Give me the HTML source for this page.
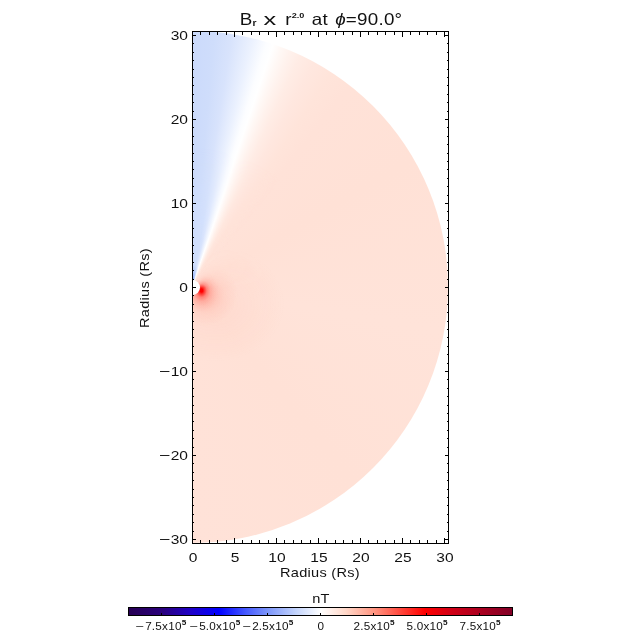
<!DOCTYPE html>
<html><head><meta charset="utf-8"><title>Br x r^2.0</title>
<style>
html,body{margin:0;padding:0;background:#fff;}
body{width:640px;height:640px;position:relative;overflow:hidden;font-family:"Liberation Sans",sans-serif;color:#000;}
.plot{position:absolute;left:193px;top:32px;width:255px;height:511px;overflow:hidden;background:#fff;}
.disc{position:absolute;left:-256.7px;top:-1px;width:512px;height:512px;border-radius:50%;
 background:conic-gradient(from 0deg at 50% 50%,
   #cbdafb 0deg, #cfddfb 5deg, #d8e3fc 9deg, #ebf1fe 13.6deg, #fcfdff 17deg, #ffffff 18.5deg, #fff8f5 20.5deg, #fff2ed 22.5deg, #ffece5 25deg, #ffe7df 28.5deg, #ffe4da 33deg, #ffe2d8 38deg, #ffe1d6 60deg, #ffe3d9 100deg, #ffe1d6 140deg, #ffe2d8 180deg, #ffe2d8 360deg);}
.near{position:absolute;left:-256.7px;top:-1px;width:512px;height:512px;border-radius:50%;
 background:conic-gradient(from 0deg at 50% 50%, #cfddfc 0deg, #d1dffc 10deg, #d9e4fd 13deg, #ebf1fe 16deg, #ffffff 19deg, #fff7f4 21deg, #ffeee7 23.5deg, #ffe6dd 26.5deg, #ffe2d8 31deg, #ffe2d8 33deg, rgba(255,226,216,0) 40deg, rgba(255,226,216,0) 360deg);
 -webkit-mask-image:radial-gradient(circle 140px at 50% 50%, #000 0, #000 35%, transparent 100%);
 mask-image:radial-gradient(circle 140px at 50% 50%, #000 0, #000 35%, transparent 100%);}
.hot{position:absolute;left:0;top:0;width:255px;height:511px;
 -webkit-mask-image:conic-gradient(from 0deg at -0.5px 255.5px, transparent 0deg, transparent 22deg, rgba(0,0,0,.35) 45deg, rgba(0,0,0,.8) 70deg, #000 90deg, #000 180deg, transparent 180deg);
 mask-image:conic-gradient(from 0deg at -0.5px 255.5px, transparent 0deg, transparent 22deg, rgba(0,0,0,.35) 45deg, rgba(0,0,0,.8) 70deg, #000 90deg, #000 180deg, transparent 180deg);
 background:
  radial-gradient(ellipse 17px 21px at 8.5px 258.5px, rgba(255,0,0,1) 0%, rgba(255,0,0,1) 8%, rgba(255,25,20,.8) 17%, rgba(255,55,45,.42) 32%, rgba(255,85,70,.19) 52%, rgba(255,110,95,.07) 75%, rgba(255,120,100,0) 100%),
  radial-gradient(ellipse 34px 32px at 11px 262px, rgba(255,90,75,.28) 0%, rgba(255,100,85,.2) 30%, rgba(255,120,100,.09) 60%, rgba(255,130,110,0) 100%),
  radial-gradient(ellipse 70px 58px at 22px 272px, rgba(255,150,130,.09) 0%, rgba(255,150,130,.045) 60%, rgba(255,150,130,0) 100%);}
.cold{position:absolute;left:0;top:0;width:255px;height:511px;
 -webkit-mask-image:conic-gradient(from 0deg at -0.7px 255px, #000 0deg, #000 10deg, transparent 19deg, transparent 360deg);
 mask-image:conic-gradient(from 0deg at -0.7px 255px, #000 0deg, #000 10deg, transparent 19deg, transparent 360deg);
 background:radial-gradient(ellipse 9px 16px at 0px 248px, rgba(110,150,250,.65) 0%, rgba(130,165,250,.3) 50%, rgba(150,180,250,0) 100%);}
.core{position:absolute;left:-8.3px;top:247.7px;width:15.6px;height:15.6px;border-radius:50%;background:#fff;}
.ov{position:absolute;left:0;top:0;}
.cbar{position:absolute;left:128px;top:607px;width:383px;height:7px;border:1px solid #000;
 background:linear-gradient(to right,#270054 0px,#2a007c 33px,#1e00c8 62px,#0000ff 90px,#465aff 117px,#7d96fa 139px,#c3d4fc 167px,#ffffff 192px,#ffd7c8 217px,#ff9682 245px,#ff463c 272px,#ff0000 296px,#d20016 322px,#aa0020 352px,#820026 383px);}
.t{position:absolute;white-space:nowrap;line-height:16px;height:16px;color:#111;}
.yl{width:100px;text-align:right;font-size:13.5px;transform:scaleX(1.15);transform-origin:100% 50%;}
.xl{width:60px;text-align:center;font-size:13.5px;transform:scaleX(1.15);}
.cl{width:80px;text-align:center;font-size:10px;transform:scaleX(1.17);letter-spacing:.2px;}
.cl sup{font-size:7px;font-weight:bold;line-height:0;position:relative;top:-0.5px;vertical-align:super;letter-spacing:0;}
.m{display:inline-block;transform:scaleX(1.25);transform-origin:100% 50%;margin-left:2px;}
.ttl{left:220.5px;top:9px;width:200px;text-align:center;font-size:16.5px;line-height:20px;height:20px;transform:scaleX(1.14);letter-spacing:.2px;word-spacing:1.6px;}
.ttl sub{font-size:9px;font-weight:bold;line-height:0;letter-spacing:0;vertical-align:baseline;position:relative;top:1px;}
.ttl sup{font-size:8px;font-weight:bold;line-height:0;letter-spacing:0;vertical-align:baseline;position:relative;top:-7px;}
.tx{display:inline-block;transform:scaleX(1.35);margin:0 2.5px 0 1.5px;}
.xt{left:260px;top:565px;width:120px;text-align:center;font-size:13px;transform:scaleX(1.12);letter-spacing:.25px;}
.yt{left:85px;top:279.5px;width:120px;text-align:center;font-size:13px;letter-spacing:.25px;transform:rotate(-90deg) scaleX(1.12);transform-origin:50% 50%;}
.nt{left:300.7px;top:591px;width:40px;text-align:center;font-size:13px;transform:scaleX(1.12);letter-spacing:.3px;}
</style></head><body>
<div class="plot"><div class="disc"></div><div class="near"></div><div class="hot"></div><div class="cold"></div><div class="core"></div></div>
<div class="cbar"></div>
<svg class="ov" width="640" height="640" viewBox="0 0 640 640" shape-rendering="crispEdges"><rect x="192" y="31" width="257" height="1" fill="#000"/><rect x="192" y="543" width="257" height="1" fill="#000"/><rect x="192" y="31" width="1" height="513" fill="#000"/><rect x="448" y="31" width="1" height="513" fill="#000"/><rect x="192" y="538" width="1" height="5" fill="#000"/><rect x="192" y="32" width="1" height="5" fill="#000"/><rect x="200" y="540" width="1" height="3" fill="#000"/><rect x="200" y="32" width="1" height="3" fill="#000"/><rect x="209" y="540" width="1" height="3" fill="#000"/><rect x="209" y="32" width="1" height="3" fill="#000"/><rect x="217" y="540" width="1" height="3" fill="#000"/><rect x="217" y="32" width="1" height="3" fill="#000"/><rect x="226" y="540" width="1" height="3" fill="#000"/><rect x="226" y="32" width="1" height="3" fill="#000"/><rect x="234" y="538" width="1" height="5" fill="#000"/><rect x="234" y="32" width="1" height="5" fill="#000"/><rect x="242" y="540" width="1" height="3" fill="#000"/><rect x="242" y="32" width="1" height="3" fill="#000"/><rect x="251" y="540" width="1" height="3" fill="#000"/><rect x="251" y="32" width="1" height="3" fill="#000"/><rect x="259" y="540" width="1" height="3" fill="#000"/><rect x="259" y="32" width="1" height="3" fill="#000"/><rect x="268" y="540" width="1" height="3" fill="#000"/><rect x="268" y="32" width="1" height="3" fill="#000"/><rect x="276" y="538" width="1" height="5" fill="#000"/><rect x="276" y="32" width="1" height="5" fill="#000"/><rect x="284" y="540" width="1" height="3" fill="#000"/><rect x="284" y="32" width="1" height="3" fill="#000"/><rect x="293" y="540" width="1" height="3" fill="#000"/><rect x="293" y="32" width="1" height="3" fill="#000"/><rect x="301" y="540" width="1" height="3" fill="#000"/><rect x="301" y="32" width="1" height="3" fill="#000"/><rect x="310" y="540" width="1" height="3" fill="#000"/><rect x="310" y="32" width="1" height="3" fill="#000"/><rect x="318" y="538" width="1" height="5" fill="#000"/><rect x="318" y="32" width="1" height="5" fill="#000"/><rect x="326" y="540" width="1" height="3" fill="#000"/><rect x="326" y="32" width="1" height="3" fill="#000"/><rect x="335" y="540" width="1" height="3" fill="#000"/><rect x="335" y="32" width="1" height="3" fill="#000"/><rect x="343" y="540" width="1" height="3" fill="#000"/><rect x="343" y="32" width="1" height="3" fill="#000"/><rect x="352" y="540" width="1" height="3" fill="#000"/><rect x="352" y="32" width="1" height="3" fill="#000"/><rect x="360" y="538" width="1" height="5" fill="#000"/><rect x="360" y="32" width="1" height="5" fill="#000"/><rect x="368" y="540" width="1" height="3" fill="#000"/><rect x="368" y="32" width="1" height="3" fill="#000"/><rect x="377" y="540" width="1" height="3" fill="#000"/><rect x="377" y="32" width="1" height="3" fill="#000"/><rect x="385" y="540" width="1" height="3" fill="#000"/><rect x="385" y="32" width="1" height="3" fill="#000"/><rect x="394" y="540" width="1" height="3" fill="#000"/><rect x="394" y="32" width="1" height="3" fill="#000"/><rect x="402" y="538" width="1" height="5" fill="#000"/><rect x="402" y="32" width="1" height="5" fill="#000"/><rect x="410" y="540" width="1" height="3" fill="#000"/><rect x="410" y="32" width="1" height="3" fill="#000"/><rect x="419" y="540" width="1" height="3" fill="#000"/><rect x="419" y="32" width="1" height="3" fill="#000"/><rect x="427" y="540" width="1" height="3" fill="#000"/><rect x="427" y="32" width="1" height="3" fill="#000"/><rect x="436" y="540" width="1" height="3" fill="#000"/><rect x="436" y="32" width="1" height="3" fill="#000"/><rect x="444" y="538" width="1" height="5" fill="#000"/><rect x="444" y="32" width="1" height="5" fill="#000"/><rect x="193" y="539" width="3" height="1" fill="#000"/><rect x="445" y="539" width="3" height="1" fill="#000"/><rect x="193" y="531" width="1" height="1" fill="#000"/><rect x="447" y="531" width="1" height="1" fill="#000"/><rect x="193" y="522" width="1" height="1" fill="#000"/><rect x="447" y="522" width="1" height="1" fill="#000"/><rect x="193" y="514" width="1" height="1" fill="#000"/><rect x="447" y="514" width="1" height="1" fill="#000"/><rect x="193" y="505" width="1" height="1" fill="#000"/><rect x="447" y="505" width="1" height="1" fill="#000"/><rect x="193" y="497" width="1" height="1" fill="#000"/><rect x="447" y="497" width="1" height="1" fill="#000"/><rect x="193" y="489" width="1" height="1" fill="#000"/><rect x="447" y="489" width="1" height="1" fill="#000"/><rect x="193" y="480" width="1" height="1" fill="#000"/><rect x="447" y="480" width="1" height="1" fill="#000"/><rect x="193" y="472" width="1" height="1" fill="#000"/><rect x="447" y="472" width="1" height="1" fill="#000"/><rect x="193" y="463" width="1" height="1" fill="#000"/><rect x="447" y="463" width="1" height="1" fill="#000"/><rect x="193" y="455" width="3" height="1" fill="#000"/><rect x="445" y="455" width="3" height="1" fill="#000"/><rect x="193" y="447" width="1" height="1" fill="#000"/><rect x="447" y="447" width="1" height="1" fill="#000"/><rect x="193" y="438" width="1" height="1" fill="#000"/><rect x="447" y="438" width="1" height="1" fill="#000"/><rect x="193" y="430" width="1" height="1" fill="#000"/><rect x="447" y="430" width="1" height="1" fill="#000"/><rect x="193" y="421" width="1" height="1" fill="#000"/><rect x="447" y="421" width="1" height="1" fill="#000"/><rect x="193" y="413" width="1" height="1" fill="#000"/><rect x="447" y="413" width="1" height="1" fill="#000"/><rect x="193" y="405" width="1" height="1" fill="#000"/><rect x="447" y="405" width="1" height="1" fill="#000"/><rect x="193" y="396" width="1" height="1" fill="#000"/><rect x="447" y="396" width="1" height="1" fill="#000"/><rect x="193" y="388" width="1" height="1" fill="#000"/><rect x="447" y="388" width="1" height="1" fill="#000"/><rect x="193" y="379" width="1" height="1" fill="#000"/><rect x="447" y="379" width="1" height="1" fill="#000"/><rect x="193" y="371" width="3" height="1" fill="#000"/><rect x="445" y="371" width="3" height="1" fill="#000"/><rect x="193" y="363" width="1" height="1" fill="#000"/><rect x="447" y="363" width="1" height="1" fill="#000"/><rect x="193" y="354" width="1" height="1" fill="#000"/><rect x="447" y="354" width="1" height="1" fill="#000"/><rect x="193" y="346" width="1" height="1" fill="#000"/><rect x="447" y="346" width="1" height="1" fill="#000"/><rect x="193" y="337" width="1" height="1" fill="#000"/><rect x="447" y="337" width="1" height="1" fill="#000"/><rect x="193" y="329" width="1" height="1" fill="#000"/><rect x="447" y="329" width="1" height="1" fill="#000"/><rect x="193" y="321" width="1" height="1" fill="#000"/><rect x="447" y="321" width="1" height="1" fill="#000"/><rect x="193" y="312" width="1" height="1" fill="#000"/><rect x="447" y="312" width="1" height="1" fill="#000"/><rect x="193" y="304" width="1" height="1" fill="#000"/><rect x="447" y="304" width="1" height="1" fill="#000"/><rect x="193" y="295" width="1" height="1" fill="#000"/><rect x="447" y="295" width="1" height="1" fill="#000"/><rect x="193" y="287" width="3" height="1" fill="#000"/><rect x="445" y="287" width="3" height="1" fill="#000"/><rect x="193" y="279" width="1" height="1" fill="#000"/><rect x="447" y="279" width="1" height="1" fill="#000"/><rect x="193" y="270" width="1" height="1" fill="#000"/><rect x="447" y="270" width="1" height="1" fill="#000"/><rect x="193" y="262" width="1" height="1" fill="#000"/><rect x="447" y="262" width="1" height="1" fill="#000"/><rect x="193" y="253" width="1" height="1" fill="#000"/><rect x="447" y="253" width="1" height="1" fill="#000"/><rect x="193" y="245" width="1" height="1" fill="#000"/><rect x="447" y="245" width="1" height="1" fill="#000"/><rect x="193" y="237" width="1" height="1" fill="#000"/><rect x="447" y="237" width="1" height="1" fill="#000"/><rect x="193" y="228" width="1" height="1" fill="#000"/><rect x="447" y="228" width="1" height="1" fill="#000"/><rect x="193" y="220" width="1" height="1" fill="#000"/><rect x="447" y="220" width="1" height="1" fill="#000"/><rect x="193" y="211" width="1" height="1" fill="#000"/><rect x="447" y="211" width="1" height="1" fill="#000"/><rect x="193" y="203" width="3" height="1" fill="#000"/><rect x="445" y="203" width="3" height="1" fill="#000"/><rect x="193" y="195" width="1" height="1" fill="#000"/><rect x="447" y="195" width="1" height="1" fill="#000"/><rect x="193" y="186" width="1" height="1" fill="#000"/><rect x="447" y="186" width="1" height="1" fill="#000"/><rect x="193" y="178" width="1" height="1" fill="#000"/><rect x="447" y="178" width="1" height="1" fill="#000"/><rect x="193" y="169" width="1" height="1" fill="#000"/><rect x="447" y="169" width="1" height="1" fill="#000"/><rect x="193" y="161" width="1" height="1" fill="#000"/><rect x="447" y="161" width="1" height="1" fill="#000"/><rect x="193" y="153" width="1" height="1" fill="#000"/><rect x="447" y="153" width="1" height="1" fill="#000"/><rect x="193" y="144" width="1" height="1" fill="#000"/><rect x="447" y="144" width="1" height="1" fill="#000"/><rect x="193" y="136" width="1" height="1" fill="#000"/><rect x="447" y="136" width="1" height="1" fill="#000"/><rect x="193" y="127" width="1" height="1" fill="#000"/><rect x="447" y="127" width="1" height="1" fill="#000"/><rect x="193" y="119" width="3" height="1" fill="#000"/><rect x="445" y="119" width="3" height="1" fill="#000"/><rect x="193" y="111" width="1" height="1" fill="#000"/><rect x="447" y="111" width="1" height="1" fill="#000"/><rect x="193" y="102" width="1" height="1" fill="#000"/><rect x="447" y="102" width="1" height="1" fill="#000"/><rect x="193" y="94" width="1" height="1" fill="#000"/><rect x="447" y="94" width="1" height="1" fill="#000"/><rect x="193" y="85" width="1" height="1" fill="#000"/><rect x="447" y="85" width="1" height="1" fill="#000"/><rect x="193" y="77" width="1" height="1" fill="#000"/><rect x="447" y="77" width="1" height="1" fill="#000"/><rect x="193" y="69" width="1" height="1" fill="#000"/><rect x="447" y="69" width="1" height="1" fill="#000"/><rect x="193" y="60" width="1" height="1" fill="#000"/><rect x="447" y="60" width="1" height="1" fill="#000"/><rect x="193" y="52" width="1" height="1" fill="#000"/><rect x="447" y="52" width="1" height="1" fill="#000"/><rect x="193" y="43" width="1" height="1" fill="#000"/><rect x="447" y="43" width="1" height="1" fill="#000"/><rect x="193" y="35" width="3" height="1" fill="#000"/><rect x="445" y="35" width="3" height="1" fill="#000"/><rect x="161" y="613" width="1" height="2" fill="#000"/><rect x="214" y="613" width="1" height="2" fill="#000"/><rect x="267" y="613" width="1" height="2" fill="#000"/><rect x="320" y="613" width="1" height="2" fill="#000"/><rect x="373" y="613" width="1" height="2" fill="#000"/><rect x="426" y="613" width="1" height="2" fill="#000"/><rect x="479" y="613" width="1" height="2" fill="#000"/></svg>
<div class="t ttl">B<sub>r</sub> <span class="tx">x</span> r<sup>2.0</sup> at <i>&#981;</i>=90.0&deg;</div>
<div class="t xt">Radius (Rs)</div>
<div class="t yt">Radius (Rs)</div>
<div class="t nt">nT</div>
<div class="t yl" style="left:88.2px;top:28px;">30</div><div class="t yl" style="left:88.2px;top:112px;">20</div><div class="t yl" style="left:88.2px;top:196px;">10</div><div class="t yl" style="left:88.2px;top:280px;">0</div><div class="t yl" style="left:88.2px;top:364px;"><span class="m">−</span>10</div><div class="t yl" style="left:88.2px;top:448px;"><span class="m">−</span>20</div><div class="t yl" style="left:88.2px;top:532px;"><span class="m">−</span>30</div><div class="t xl" style="left:163px;top:549.6px;">0</div><div class="t xl" style="left:205px;top:549.6px;">5</div><div class="t xl" style="left:247px;top:549.6px;">10</div><div class="t xl" style="left:289px;top:549.6px;">15</div><div class="t xl" style="left:331px;top:549.6px;">20</div><div class="t xl" style="left:373px;top:549.6px;">25</div><div class="t xl" style="left:415px;top:549.6px;">30</div><div class="t cl" style="left:121.4px;top:618.5px;"><span class="m">−</span>7.5<span class="x">x</span>10<sup>5</sup></div><div class="t cl" style="left:174.5px;top:618.5px;"><span class="m">−</span>5.0<span class="x">x</span>10<sup>5</sup></div><div class="t cl" style="left:227.6px;top:618.5px;"><span class="m">−</span>2.5<span class="x">x</span>10<sup>5</sup></div><div class="t cl" style="left:280.5px;top:618.5px;">0</div><div class="t cl" style="left:333.8px;top:618.5px;">2.5<span class="x">x</span>10<sup>5</sup></div><div class="t cl" style="left:386.9px;top:618.5px;">5.0<span class="x">x</span>10<sup>5</sup></div><div class="t cl" style="left:440px;top:618.5px;">7.5<span class="x">x</span>10<sup>5</sup></div>
</body></html>
